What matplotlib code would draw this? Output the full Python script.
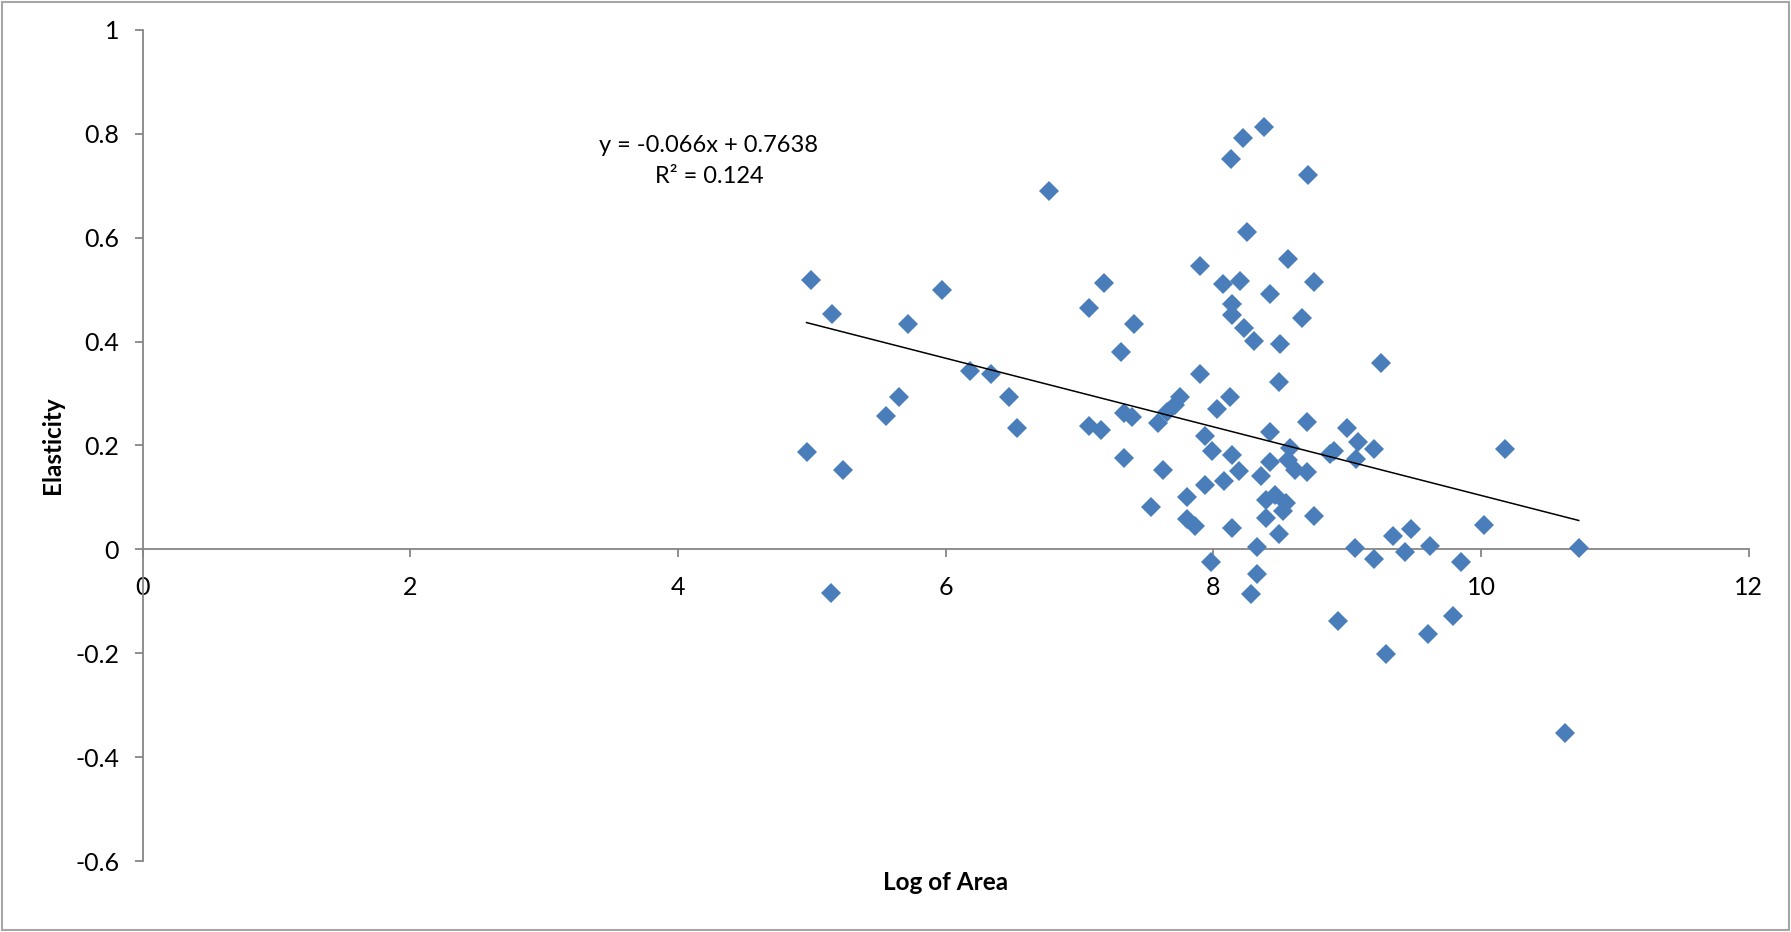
import matplotlib
matplotlib.use("Agg")
import matplotlib.pyplot as plt
import numpy as np
from matplotlib.patches import Rectangle

# scatter data: log of area vs. elasticity
log_area = [
    4.99, 5.15, 4.96, 5.23, 5.14, 5.72, 5.55, 5.65, 5.97, 6.18,
    6.34, 6.47, 6.53, 6.77, 7.07, 7.18, 7.07, 7.16, 7.31, 7.41,
    7.33, 7.39, 7.33, 7.53, 7.62, 7.585, 7.65, 7.71, 7.75, 7.80,
    7.80, 7.86, 7.90, 7.90, 7.94, 7.99, 7.94, 7.98, 8.03, 8.07,
    8.08, 8.13, 8.14, 8.14, 8.125, 8.14, 8.14, 8.20, 8.22, 8.19,
    8.23, 8.25, 8.30, 8.28, 8.325, 8.325, 8.355, 8.38, 8.39, 8.39,
    8.42, 8.42, 8.42, 8.46, 8.49, 8.50, 8.49, 8.54, 8.52, 8.554,
    8.57, 8.555, 8.61, 8.66, 8.706, 8.70, 8.70, 8.75, 8.75, 8.87,
    8.90, 8.93, 9.00, 9.06, 9.065, 9.08, 9.20, 9.20, 9.25, 9.29,
    9.34, 9.43, 9.48, 9.60, 9.62, 9.79, 9.85, 10.02, 10.18, 10.73,
    10.63,
]
elasticity = [
    0.518, 0.453, 0.187, 0.153, -0.084, 0.433, 0.257, 0.294, 0.500, 0.343,
    0.337, 0.294, 0.234, 0.690, 0.464, 0.512, 0.238, 0.230, 0.380, 0.433,
    0.262, 0.254, 0.175, 0.081, 0.153, 0.243, 0.265, 0.278, 0.294, 0.101,
    0.058, 0.045, 0.545, 0.338, 0.218, 0.190, 0.124, -0.025, 0.271, 0.511,
    0.132, 0.751, 0.472, 0.451, 0.293, 0.182, 0.041, 0.517, 0.791, 0.150,
    0.426, 0.611, 0.401, -0.086, -0.048, 0.004, 0.141, 0.812, 0.095, 0.061,
    0.225, 0.491, 0.168, 0.105, 0.323, 0.395, 0.029, 0.090, 0.073, 0.558,
    0.196, 0.172, 0.153, 0.445, 0.721, 0.245, 0.148, 0.515, 0.065, 0.184,
    0.190, -0.138, 0.233, 0.002, 0.173, 0.207, 0.193, -0.018, 0.358, -0.201,
    0.026, -0.006, 0.039, -0.163, 0.007, -0.128, -0.024, 0.046, 0.193, 0.002,
    -0.354,
]

# linear trend as reported on the chart
slope = -0.066
intercept = 0.7638
r_squared = 0.124

x_ticks = [0, 2, 4, 6, 8, 10, 12]
y_ticks = [-0.6, -0.4, -0.2, 0, 0.2, 0.4, 0.6, 0.8, 1]

plt.rcParams['font.family'] = ['Lato', 'DejaVu Sans']

fig = plt.figure(figsize=(17.91, 9.32), dpi=100)
ax = fig.add_axes([0.0797, 0.0760, 0.8967, 0.8921])

axis_grey = '#868686'

ax.plot(log_area, elasticity, linestyle='none', marker='D',
        markersize=10, color='#4A7EBB', markeredgewidth=0, zorder=3)

x_fit = np.array([min(log_area), max(log_area)])
ax.plot(x_fit, slope * x_fit + intercept, color='black', linewidth=1.1,
        zorder=4)

ax.text(4.23, 0.778, f'y = {slope}x + {intercept}', ha='center',
        va='center', fontsize=17)
ax.text(4.23, 0.717, f'R² = {r_squared}', ha='center', va='center',
        fontsize=17)

ax.set_xlim(0, 12)
ax.set_ylim(-0.6, 1)
ax.set_xticks(x_ticks)
ax.set_yticks(y_ticks)
ax.set_xticklabels([str(t) for t in x_ticks])
ax.set_yticklabels([f'{t:g}' for t in y_ticks])

ax.spines['top'].set_visible(False)
ax.spines['right'].set_visible(False)
ax.spines['bottom'].set_position(('data', 0))
for side in ('left', 'bottom'):
    ax.spines[side].set_color(axis_grey)
    ax.spines[side].set_linewidth(1.3)
ax.tick_params(axis='both', direction='out', length=6, width=1.3,
               color=axis_grey, labelsize=18, labelcolor='black')
ax.tick_params(axis='x', pad=13)
ax.tick_params(axis='y', pad=11)
ax.patch.set_visible(False)

fig.text(946 / 1791, 1 - 883 / 932, 'Log of Area', ha='center',
         va='center', fontsize=17.5, fontweight='bold')
fig.text(52.5 / 1791, 1 - 445 / 932, 'Elasticity', ha='center',
         va='center', rotation=90, fontsize=17.5, fontweight='bold')

# thin frame around the whole chart
fig.patches.append(Rectangle((0.001, 0.002), 0.998, 0.996,
                             transform=fig.transFigure, fill=False,
                             edgecolor='#A6A6A6', linewidth=1.5))

fig.savefig('out.png', dpi=100)
